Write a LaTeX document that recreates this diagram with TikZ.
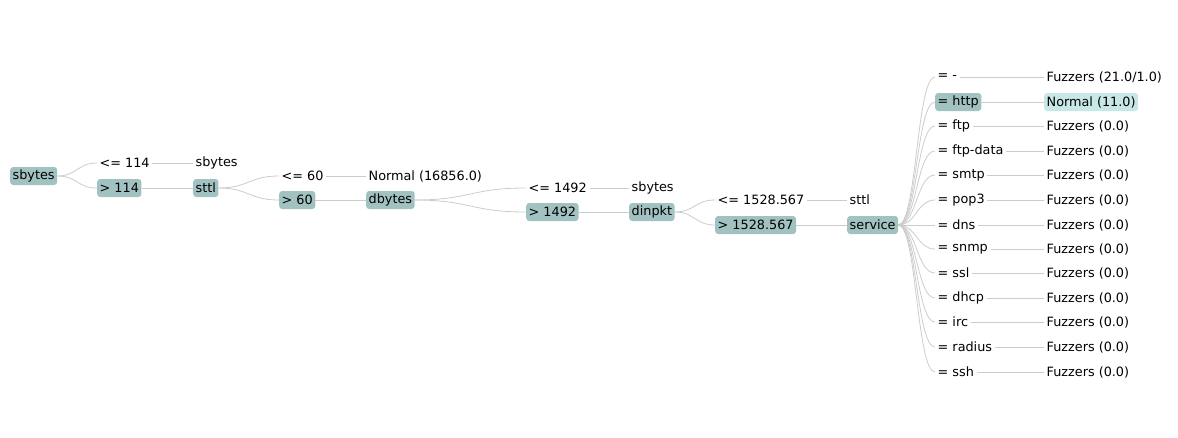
\documentclass[tikz,border=0pt]{standalone}
\usepackage{fontspec}
\setmainfont{DejaVu Sans}
\usetikzlibrary{calc}
\definecolor{boxdark}{HTML}{A2C2C2}
\definecolor{boxlight}{HTML}{C8E8E8}
\definecolor{edgegray}{HTML}{CCCCCC}
\begin{document}
\begin{tikzpicture}[x=1pt,y=-1pt,
  lbl/.style={anchor=west,inner xsep=2.5pt,inner ysep=0pt,minimum height=18pt,font=\fontsize{12.8}{14}\selectfont,text=black},
  hbox/.style={lbl,fill=boxdark,rounded corners=3pt},
  lbox/.style={lbl,fill=boxlight,rounded corners=3pt},
  edge/.style={draw=edgegray,line width=0.8pt},
]
\useasboundingbox (0,0) rectangle (1178,437);
% level 0
\node[hbox] (n0) at (10,176) {sbytes};
\node[lbl] (c1a) at (97,163) {<= 114};
\node[hbox] (c1b) at (97,188) {> 114};
\node[lbl] (n1a) at (193,163) {sbytes};
\node[hbox] (n1b) at (193,188) {sttl};
\node[lbl] (c2a) at (279,176) {<= 60};
\node[hbox] (c2b) at (279,200) {> 60};
\node[lbl] (n2a) at (366,176) {Normal (16856.0)};
\node[hbox] (n2b) at (366,200) {dbytes};
\node[lbl] (c3a) at (526,188) {<= 1492};
\node[hbox] (c3b) at (526,212) {> 1492};
\node[lbl] (n3a) at (629,188) {sbytes};
\node[hbox] (n3b) at (629,212) {dinpkt};
\node[lbl] (c4a) at (715,200) {<= 1528.567};
\node[hbox] (c4b) at (715,225) {> 1528.567};
\node[lbl] (n4a) at (847,200) {sttl};
\node[hbox] (n4b) at (847,225) {service};
% service children
\node[lbl] (s1) at (935,77) {= -};
\node[hbox] (s2) at (935,102) {= http};
\node[lbl] (s3) at (935,126) {= ftp};
\node[lbl] (s4) at (935,151) {= ftp-data};
\node[lbl] (s5) at (935,175) {= smtp};
\node[lbl] (s6) at (935,200) {= pop3};
\node[lbl] (s7) at (935,225) {= dns};
\node[lbl] (s8) at (935,249) {= snmp};
\node[lbl] (s9) at (935,273) {= ssl};
\node[lbl] (s10) at (935,298) {= dhcp};
\node[lbl] (s11) at (935,322) {= irc};
\node[lbl] (s12) at (935,347) {= radius};
\node[lbl] (s13) at (935,372) {= ssh};
\node[lbl] (l1) at (1044,77) {Fuzzers (21.0/1.0)};
\node[lbox] (l2) at (1044,102) {Normal (11.0)};
\node[lbl] (l3) at (1044,126) {Fuzzers (0.0)};
\node[lbl] (l4) at (1044,151) {Fuzzers (0.0)};
\node[lbl] (l5) at (1044,175) {Fuzzers (0.0)};
\node[lbl] (l6) at (1044,200) {Fuzzers (0.0)};
\node[lbl] (l7) at (1044,225) {Fuzzers (0.0)};
\node[lbl] (l8) at (1044,249) {Fuzzers (0.0)};
\node[lbl] (l9) at (1044,273) {Fuzzers (0.0)};
\node[lbl] (l10) at (1044,298) {Fuzzers (0.0)};
\node[lbl] (l11) at (1044,322) {Fuzzers (0.0)};
\node[lbl] (l12) at (1044,347) {Fuzzers (0.0)};
\node[lbl] (l13) at (1044,372) {Fuzzers (0.0)};
% curved edges (control points at horizontal midpoint)
\foreach \pa/\ch in {n0/c1a,n0/c1b,n1b/c2a,n1b/c2b,n2b/c3a,n2b/c3b,n3b/c4a,n3b/c4b}{
  \path[edge] let \p1=(\pa.east), \p2=(\ch.west) in
    (\p1) .. controls ({(\x1+\x2)/2},\y1) and ({(\x1+\x2)/2},\y2) .. (\p2);
}
\foreach \i in {1,...,13}{
  \path[edge] let \p1=(n4b.east), \p2=(s\i.west) in
    (\p1) .. controls ({(\x1+\x2)/2},\y1) and ({(\x1+\x2)/2},\y2) .. (\p2);
  \path[edge] (s\i.east) -- (l\i.west);
}
% straight edges
\foreach \a/\b in {c1a/n1a,c1b/n1b,c2a/n2a,c2b/n2b,c3a/n3a,c3b/n3b,c4a/n4a,c4b/n4b}{
  \path[edge] (\a.east) -- (\b.west);
}
\end{tikzpicture}
\end{document}
